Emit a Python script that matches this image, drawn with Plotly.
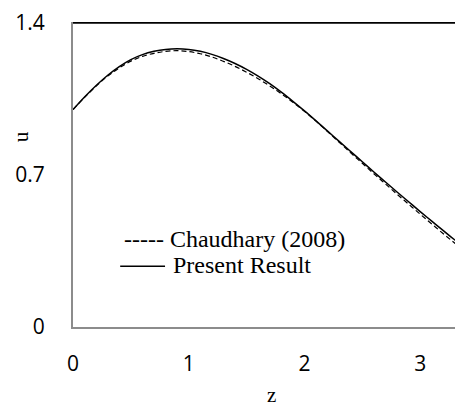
import plotly.graph_objects as go

z = [0.0, 0.1, 0.2, 0.3, 0.4, 0.5, 0.6, 0.7, 0.8, 0.9, 1.0, 1.1, 1.2, 1.3, 1.4, 1.5, 1.6, 1.7,
     1.8, 1.9, 2.0, 2.1, 2.2, 2.3, 2.4, 2.5, 2.6, 2.7, 2.8, 2.9, 3.0, 3.1, 3.2, 3.3, 3.4]
u_present = [1.0, 1.058, 1.111, 1.158, 1.198, 1.23, 1.253, 1.268, 1.277, 1.28, 1.277, 1.268,
             1.254, 1.235, 1.212, 1.185, 1.154, 1.119, 1.08, 1.038, 0.994, 0.948, 0.901, 0.854,
             0.807, 0.76, 0.713, 0.667, 0.621, 0.576, 0.531, 0.487, 0.443, 0.4, 0.357]
u_chaudhary = [1.0, 1.056, 1.108, 1.154, 1.192, 1.223, 1.245, 1.259, 1.268, 1.271, 1.267, 1.257,
               1.242, 1.222, 1.199, 1.172, 1.142, 1.109, 1.073, 1.034, 0.992, 0.947, 0.899, 0.85,
               0.801, 0.753, 0.705, 0.658, 0.611, 0.565, 0.519, 0.474, 0.429, 0.385, 0.341]

x_ticks = [0, 1, 2, 3]
y_ticks = [0, 0.7, 1.4]
y_tick_text = ["0", "0.7", "1.4"]
legend_names = ["Chaudhary (2008)", "Present Result"]

fig = go.Figure()
fig.add_trace(go.Scatter(x=z, y=u_chaudhary, mode="lines", name=legend_names[0],
                         line=dict(color="black", width=1.2, dash="5px,3px", shape="spline"),
                         showlegend=False))
fig.add_trace(go.Scatter(x=z, y=u_present, mode="lines", name=legend_names[1],
                         line=dict(color="black", width=1.5, shape="spline"), showlegend=False))

tickfont = dict(family="Open Sans, Liberation Sans, sans-serif", size=21, color="black")
serif = "Liberation Serif, Times New Roman, serif"

# page body has an 8px margin, so the figure is 8px smaller than the window
fig.update_layout(
    width=455, height=399,
    margin=dict(l=65, r=0, t=12, b=80),
    paper_bgcolor="white", plot_bgcolor="white",
    xaxis=dict(range=[0, 3.37], tickvals=x_ticks, ticktext=[str(t) for t in x_ticks],
               showgrid=False, zeroline=False, showline=True, linecolor="#8c8c8c", linewidth=2,
               ticks="", tickfont=tickfont, ticklabelstandoff=17, ticklabeloverflow="allow"),
    yaxis=dict(range=[0, 1.403], tickvals=y_ticks, ticktext=y_tick_text,
               showgrid=False, zeroline=False, showline=True, linecolor="#8c8c8c", linewidth=2,
               ticks="", tickfont=tickfont, ticklabelstandoff=22, ticklabeloverflow="allow"),
    shapes=[
        dict(type="line", xref="paper", yref="y", x0=0, x1=1, y0=1.4, y1=1.4,
             line=dict(color="black", width=2)),
        dict(type="line", xref="paper", yref="paper", x0=0.121, x1=0.236, y0=0.199, y1=0.199,
             line=dict(color="black", width=1.5)),
    ],
    annotations=[
        dict(text="----- " + legend_names[0], xref="paper", yref="paper", x=0.125, y=0.287,
             xanchor="left", yanchor="middle", showarrow=False,
             font=dict(family=serif, size=24, color="black")),
        dict(text=legend_names[1], xref="paper", yref="paper", x=0.252, y=0.203,
             xanchor="left", yanchor="middle", showarrow=False,
             font=dict(family=serif, size=24, color="black")),
        dict(text="z", xref="paper", yref="paper", x=(271 - 73) / 390, y=-0.2215,
             xanchor="center", yanchor="middle", showarrow=False, borderpad=0,
             font=dict(family=serif, size=21, color="black")),
        dict(text="u", xref="paper", yref="paper", x=-(73 - 21) / 390, y=(327 - 136) / 307,
             xanchor="center", yanchor="middle", showarrow=False, textangle=-90,
             font=dict(family=serif, size=21, color="black")),
    ],
)

fig.write_html("out.html")
